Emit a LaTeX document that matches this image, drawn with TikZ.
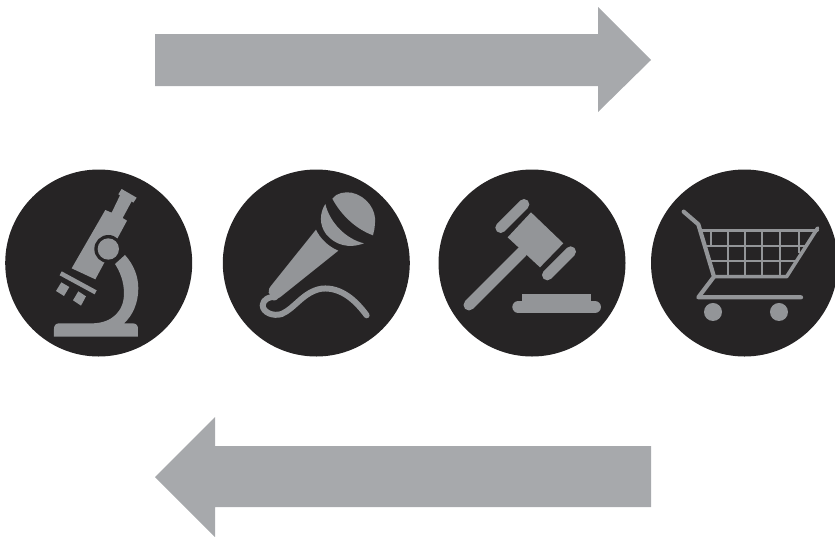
\documentclass[tikz,border=0pt]{standalone}
\definecolor{arrowgray}{HTML}{A7A9AC}
\definecolor{icongray}{HTML}{939598}
\definecolor{discblack}{HTML}{262425}
\tikzset{
  bigarrow/.style={fill=arrowgray,draw=none},
  disc/.style={fill=discblack,draw=none},
  icon/.style={fill=icongray,draw=none},
  iconline/.style={draw=icongray,line cap=round,line join=round,fill=none},
  grid line/.style={draw=icongray,line width=2.2pt,line cap=butt}
}
\begin{document}
\begin{tikzpicture}[x=1pt,y=-1pt]
\useasboundingbox (0,0) rectangle (835,536);
\clip (0,0) rectangle (835,536);
% arrows
\fill[bigarrow] (155,34) -- (598,34) -- (598,7) -- (651,60) -- (598,112) -- (598,86) -- (155,86) -- cycle;
\fill[bigarrow] (651,446) -- (215,446) -- (215,417) -- (155,477) -- (215,537) -- (215,507) -- (651,507) -- cycle;
% discs
\fill[disc] (98.7,263) circle (93.5);
\fill[disc] (316.3,263) circle (93.5);
\fill[disc] (532,263) circle (93.5);
\fill[disc] (744.5,263) circle (93.5);
% microscope
\begin{scope}[shift={(0pt,-160pt)},x=0.3333pt,y=-0.3333pt]
\fill[icon] (162,530) -- (162,506) .. controls (162,496) and (168,490) .. (178,490) -- (280,490)
  .. controls (335,488) and (372,455) .. (372,400) .. controls (372,365) and (360,335) .. (345,312)
  -- (375,285) .. controls (402,315) and (415,350) .. (415,385) .. controls (415,430) and (397,468) .. (372,490)
  -- (398,490) .. controls (408,490) and (414,496) .. (414,506) -- (414,530) -- cycle;
\fill[icon] (215,325) -- (316,150) -- (335,158) -- (360,106) -- (355,103) -- (365,87) -- (410,113) -- (400,128) -- (395,124) -- (368,174) -- (381,182) -- (286,358) -- cycle;
\fill[discblack] (325,267) circle (42);
\fill[icon] (325,267) circle (32);
\draw[iconline,line width=4.5pt,line cap=butt] (182,340) -- (287,397);
\fill[icon] (168,393) -- (184,367) -- (208,381) -- (192,408) -- cycle;
\fill[icon] (219,421) -- (235,394) -- (258,409) -- (243,437) -- cycle;
\end{scope}
% microphone
\begin{scope}[shift={(220pt,-160pt)},x=0.3333pt,y=-0.3333pt]
\fill[icon] (337,116) .. controls (350,98) and (375,95) .. (395,98) .. controls (440,108) and (470,150) .. (465,190) .. controls (464,205) and (462,215) .. (459,226)
  .. controls (410,208) and (365,168) .. (337,116) -- cycle;
\fill[icon] (316,132) .. controls (298,160) and (298,195) .. (318,222) .. controls (345,255) and (385,267) .. (432,250)
  .. controls (380,238) and (330,190) .. (316,132) -- cycle;
\fill[icon] (288,209) .. controls (300,235) and (325,260) .. (355,272) -- (180,412) .. controls (172,418) and (165,420) .. (160,418) -- (146,398) .. controls (145,390) and (148,383) .. (155,375) -- cycle;
\draw[iconline,line width=6pt] (165,412) .. controls (150,408) and (130,418) .. (128,435) .. controls (128,458) and (160,470) .. (185,462) .. controls (225,445) and (250,395) .. (305,386) .. controls (365,380) and (410,425) .. (440,466);
\end{scope}
% gavel
\begin{scope}[shift={(435pt,-160pt)},x=0.3333pt,y=-0.3333pt]
\draw[iconline,line width=11pt] (102,435) -- (262,275);
\fill[icon] (218,232) -- (288,157) -- (385,250) -- (315,322) -- cycle;
\draw[iconline,line width=10.7pt] (197,203) -- (267,133);
\draw[iconline,line width=10.7pt] (337,345) -- (407,275);
\draw[iconline,line width=12pt] (250,441) -- (480,441);
\fill[icon] (262,403) rectangle (467,430);
\end{scope}
% cart
\begin{scope}[shift={(645pt,-160pt)},x=0.3333pt,y=-0.3333pt]
\draw[iconline,line width=4.2pt] (116,155) -- (160,193) -- (207,350) -- (160,412) -- (468,412);
\draw[iconline,line width=3pt] (170,212) -- (518,212);
\draw[iconline,line width=3.6pt] (518,204) -- (425,350) -- (207,350);
\draw[grid line] (184,258) -- (486,258);
\draw[grid line] (196,302) -- (455,302);
\draw[grid line] (198,212) -- (198,258);
\draw[grid line] (248,212) -- (248,350);
\draw[grid line] (300,212) -- (300,350);
\draw[grid line] (352,212) -- (352,350);
\draw[grid line] (405,212) -- (405,350);
\draw[grid line] (463,212) -- (463,280);
\fill[icon] (204,456) circle (27);
\fill[icon] (402,456) circle (27);
\end{scope}
\end{tikzpicture}
\end{document}
